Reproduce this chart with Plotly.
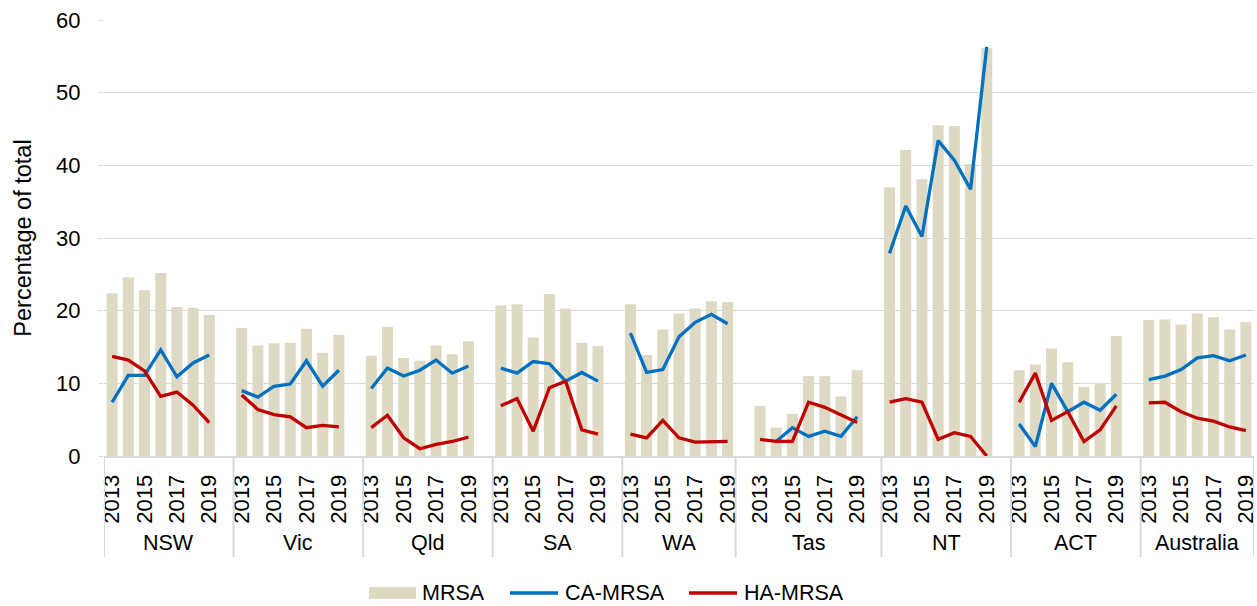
import plotly.graph_objects as go

# Jurisdictions and reporting years
groups = ["NSW", "Vic", "Qld", "SA", "WA", "Tas", "NT", "ACT", "Australia"]
years = [2013, 2014, 2015, 2016, 2017, 2018, 2019]
label_years = [2013, 2015, 2017, 2019]

# Empty category slots before / after each jurisdiction on the axis
lead_slots = [0, 0, 0, 0, 0, 1, 0, 0, 0]
trail_slots = [1, 1, 1, 1, 0, 1, 1, 1, 0]

# MRSA as percentage of total, one row per jurisdiction (2013-2019)
mrsa = [
    22.4, 24.6, 22.8, 25.2, 20.5, 20.4, 19.4,   # NSW
    17.6, 15.2, 15.5, 15.6, 17.5, 14.2, 16.7,   # Vic
    13.8, 17.8, 13.5, 13.1, 15.2, 14.0, 15.8,   # Qld
    20.7, 20.9, 16.3, 22.3, 20.3, 15.6, 15.1,   # SA
    20.9, 13.9, 17.4, 19.6, 20.3, 21.3, 21.2,   # WA
    6.9, 3.9, 5.8, 11.0, 11.0, 8.2, 11.8,       # Tas
    37.0, 42.1, 38.1, 45.5, 45.4, 40.2, 56.1,   # NT
    11.8, 12.6, 14.8, 12.9, 9.5, 9.9, 16.5,     # ACT
    18.7, 18.8, 18.1, 19.6, 19.1, 17.4, 18.4,   # Australia
]

# Community-associated MRSA
ca_mrsa = [
    7.4, 11.1, 11.1, 14.6, 10.9, 12.8, 13.9,    # NSW
    9.0, 8.1, 9.6, 9.9, 13.1, 9.6, 11.8,        # Vic
    9.3, 12.1, 11.0, 11.8, 13.2, 11.4, 12.4,    # Qld
    12.1, 11.4, 13.0, 12.7, 10.3, 11.5, 10.3,   # SA
    16.9, 11.5, 11.9, 16.4, 18.4, 19.5, 18.2,   # WA
    None, 2.0, 3.9, 2.7, 3.4, 2.7, 5.4,         # Tas
    27.9, 34.4, 30.2, 43.4, 40.7, 36.7, 56.3,   # NT
    4.4, 1.3, 10.0, 6.1, 7.4, 6.3, 8.5,         # ACT
    10.5, 11.0, 11.9, 13.5, 13.8, 13.1, 13.9,   # Australia
]

# Hospital-associated MRSA
ha_mrsa = [
    13.7, 13.2, 11.7, 8.2, 8.8, 7.0, 4.6,       # NSW
    8.4, 6.4, 5.7, 5.4, 3.9, 4.2, 4.0,          # Vic
    3.9, 5.6, 2.5, 1.0, 1.6, 2.0, 2.6,          # Qld
    6.9, 7.9, 3.4, 9.4, 10.3, 3.6, 3.0,         # SA
    3.0, 2.5, 4.9, 2.5, 1.9, 1.9, 2.0,          # WA
    2.3, 2.0, 2.0, 7.4, 6.7, 5.6, 4.6,          # Tas
    7.4, 7.9, 7.4, 2.3, 3.2, 2.7, 0.0,          # NT
    7.4, 11.4, 4.9, 6.1, 2.0, 3.6, 6.9,         # ACT
    7.3, 7.4, 6.1, 5.2, 4.8, 4.0, 3.5,          # Australia
]

FONT = "Liberation Sans, Arial, sans-serif"
BAR_COLOR = "#DDD9C3"
CA_COLOR = "#0070C0"
HA_COLOR = "#C00000"
GRID = "#D9D9D9"
INK = "#000000"

W, H = 1257, 606
ML, MR, MT, MB = 104, 3, 20, 150
PW, PH = W - ML - MR, H - MT - MB

# Category slot index for every (jurisdiction, year) pair
slot_x = []
group_bounds = []
slot = 0
for g, lead, trail in zip(groups, lead_slots, trail_slots):
    start = slot
    slot += lead
    for _ in years:
        slot_x.append(slot)
        slot += 1
    slot += trail
    group_bounds.append((start - 0.5, slot - 0.5))
n_slots = slot


def segmented(values):
    """Split a flat series into per-jurisdiction segments separated by gaps."""
    xs, ys = [], []
    n = len(years)
    for gi in range(len(groups)):
        xs += slot_x[gi * n:(gi + 1) * n] + [None]
        ys += values[gi * n:(gi + 1) * n] + [None]
    return xs, ys


fig = go.Figure()
fig.add_trace(go.Bar(
    x=slot_x, y=mrsa, name="MRSA", marker=dict(color=BAR_COLOR, line_width=0),
    width=0.68,
))
for name, vals, color in [("CA-MRSA", ca_mrsa, CA_COLOR), ("HA-MRSA", ha_mrsa, HA_COLOR)]:
    xs, ys = segmented(vals)
    fig.add_trace(go.Scatter(
        x=xs, y=ys, name=name, mode="lines", connectgaps=False,
        line=dict(color=color, width=3.3),
    ))

# Year tick labels (every second year) in each jurisdiction
tick_vals, tick_text = [], []
for gi in range(len(groups)):
    for yi, yr in enumerate(years):
        if yr in label_years:
            tick_vals.append(slot_x[gi * len(years) + yi])
            tick_text.append(str(yr))

# Vertical separators between jurisdictions under the axis
shapes = []
edges = sorted({b for pair in group_bounds for b in pair})
for e in edges:
    shapes.append(dict(
        type="line", xref="x", yref="paper", x0=e, x1=e, y0=0, y1=-101 / PH,
        line=dict(color=GRID, width=2), layer="above",
    ))

# Jurisdiction names centred under each block
annotations = []
for g, (a, b) in zip(groups, group_bounds):
    annotations.append(dict(
        text=g, x=(a + b) / 2, xref="x", y=0, yref="paper", yshift=-87,
        showarrow=False, xanchor="center", yanchor="middle",
        font=dict(family=FONT, size=21.5, color=INK),
    ))


# Legend row below the chart (pixel positions converted to paper units)
def px(xp):
    return (xp - ML) / PW


def py(yp):
    return (MT + PH - yp) / PH


legend_y = 593
shapes.append(dict(
    type="rect", xref="paper", yref="paper", x0=px(369), x1=px(416),
    y0=py(legend_y + 6), y1=py(legend_y - 6), fillcolor=BAR_COLOR, line_width=0,
))
for x0, color in [(510, CA_COLOR), (689, HA_COLOR)]:
    shapes.append(dict(
        type="line", xref="paper", yref="paper", x0=px(x0), x1=px(x0 + 48),
        y0=py(legend_y), y1=py(legend_y), line=dict(color=color, width=3.3),
    ))
for text, x0 in [("MRSA", 420), ("CA-MRSA", 563), ("HA-MRSA", 742)]:
    annotations.append(dict(
        text=text, x=px(x0), xref="paper", y=py(legend_y), yref="paper",
        showarrow=False, xanchor="left", yanchor="middle",
        font=dict(family=FONT, size=21.5, color=INK),
    ))

fig.update_layout(
    width=W, height=H,
    margin=dict(l=ML, r=MR, t=MT, b=MB, autoexpand=False),
    paper_bgcolor="white", plot_bgcolor="white",
    font=dict(family=FONT, size=22, color=INK),
    bargap=0.32,
    showlegend=False,
    shapes=shapes,
    annotations=annotations,
)
fig.update_xaxes(
    range=[-0.5, n_slots - 0.5], tickmode="array", tickvals=tick_vals, ticktext=tick_text,
    tickangle=-90, tickfont=dict(family=FONT, size=22, color=INK),
    showgrid=False, zeroline=False, showline=True, linecolor=GRID, linewidth=2,
    ticks="", ticklabelstandoff=8, ticklabeloverflow="allow", automargin=False,
)
fig.update_yaxes(
    range=[0, 60], dtick=10, showgrid=True, gridcolor=GRID, gridwidth=1.3,
    zeroline=False, showline=False,
    ticks="outside", ticklen=4, tickcolor=GRID,
    tickfont=dict(family=FONT, size=22, color=INK), ticklabelstandoff=14,
    automargin=False,
    title=dict(text="Percentage of total", font=dict(family=FONT, size=23.5, color=INK),
               standoff=17),
)

fig.write_html("out.html")
